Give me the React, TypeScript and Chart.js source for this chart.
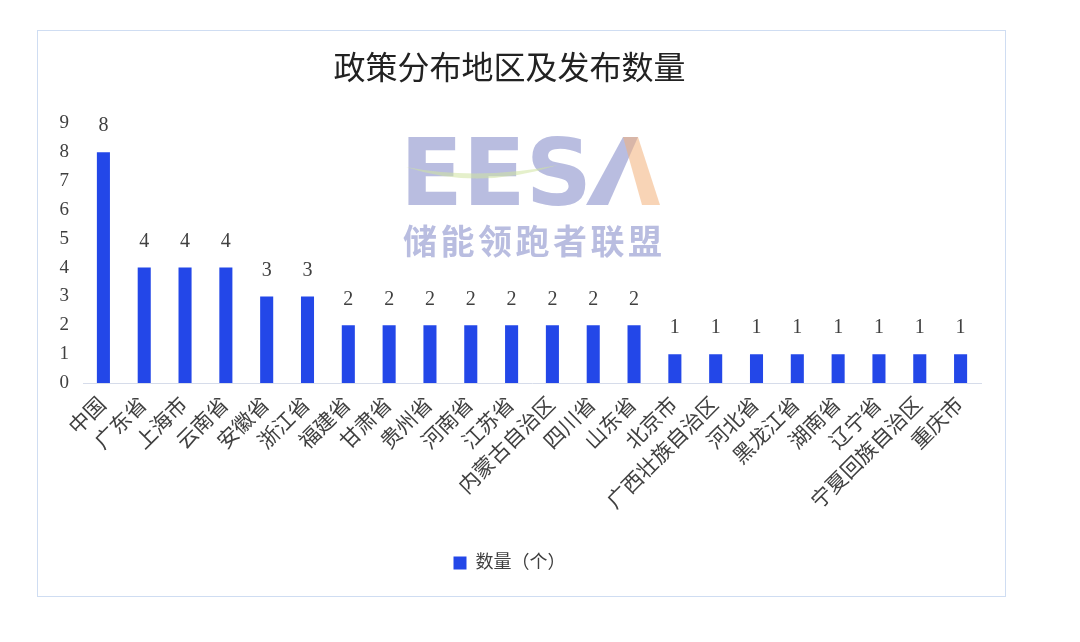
import React, { useEffect, useRef } from "react";
import { Chart, registerables } from "chart.js";

Chart.register(...registerables);

const categories = ["中国", "广东省", "上海市", "云南省", "安徽省", "浙江省", "福建省", "甘肃省", "贵州省", "河南省", "江苏省", "内蒙古自治区", "四川省", "山东省", "北京市", "广西壮族自治区", "河北省", "黑龙江省", "湖南省", "辽宁省", "宁夏回族自治区", "重庆市"];
const counts = [8, 4, 4, 4, 3, 3, 2, 2, 2, 2, 2, 2, 2, 2, 1, 1, 1, 1, 1, 1, 1, 1];
const yTicks = [0, 1, 2, 3, 4, 5, 6, 7, 8, 9];
const seriesName = "数量（个）";
const titleText = "政策分布地区及发布数量";

const FONT = "'Liberation Serif', 'Noto Sans CJK SC', serif";
const BAR = "#2347E8";

const valueLabels = {
  id: "valueLabels",
  afterDatasetsDraw(chart: any) {
    const ctx = chart.ctx;
    const meta = chart.getDatasetMeta(0);
    ctx.save();
    ctx.font = `20px ${FONT}`;
    ctx.fillStyle = "#404040";
    ctx.textAlign = "center";
    ctx.textBaseline = "middle";
    meta.data.forEach((el: any, i: number) => {
      ctx.fillText(String(counts[i]), el.x, el.y - 26);
    });
    ctx.restore();
  },
};

const watermark = {
  id: "watermark",
  beforeDatasetsDraw(chart: any) {
    const ctx = chart.ctx;
    ctx.save();
    ctx.globalAlpha = 0.55;
    ctx.fillStyle = "#7f86c6";
    ctx.font = "bold 92px 'DejaVu Sans', sans-serif";
    ctx.textBaseline = "alphabetic";
    ctx.textAlign = "left";
    ctx.fillText("EES", 362, 174);
    ctx.beginPath();
    ctx.moveTo(548, 174);
    ctx.lineTo(585, 106);
    ctx.lineTo(600, 106);
    ctx.lineTo(570, 174);
    ctx.closePath();
    ctx.fill();
    ctx.fillStyle = "#f2b07a";
    ctx.beginPath();
    ctx.moveTo(600, 106);
    ctx.lineTo(585, 106);
    ctx.lineTo(604, 174);
    ctx.lineTo(622, 174);
    ctx.closePath();
    ctx.fill();
    ctx.fillStyle = "#cfe3a0";
    ctx.beginPath();
    ctx.moveTo(368, 136);
    ctx.quadraticCurveTo(440, 160, 520, 134);
    ctx.quadraticCurveTo(440, 150, 368, 136);
    ctx.fill();
    ctx.fillStyle = "#7f86c6";
    ctx.font = "bold 34px 'Noto Sans CJK SC', sans-serif";
    ctx.textBaseline = "middle";
    const wm = "储能领跑者联盟";
    for (let i = 0; i < wm.length; i++) {
      ctx.fillText(wm[i], 365 + i * 37.5, 210);
    }
    ctx.restore();
  },
};

export default function App() {
  const ref = useRef<HTMLCanvasElement>(null);
  useEffect(() => {
    if (!ref.current) return;
    const chart = new Chart(ref.current, {
      type: "bar",
      data: {
        labels: categories,
        datasets: [
          {
            label: seriesName,
            data: counts,
            backgroundColor: BAR,
            barPercentage: 0.64,
            categoryPercentage: 0.5,
          },
        ],
      },
      options: {
        animation: false,
        responsive: false,
        layout: { padding: { left: 0, right: 24, top: 0, bottom: 14 } },
        plugins: {
          title: {
            display: true,
            text: titleText,
            font: { family: FONT, size: 32, weight: "normal" },
            color: "#222",
            padding: { top: 20, bottom: 34 },
          },
          legend: {
            position: "bottom",
            labels: {
              font: { family: FONT, size: 18 },
              color: "#404040",
              boxWidth: 13,
              boxHeight: 13,
              padding: 10,
            },
          },
          tooltip: { enabled: false },
        },
        scales: {
          x: {
            afterFit(scale: any) {
              scale.height = 161;
            },
            grid: { display: false, drawTicks: false },
            border: { display: true, color: "#D6DCEA", width: 1 },
            ticks: {
              font: { family: FONT, size: 21 },
              color: "#404040",
              maxRotation: 45,
              minRotation: 45,
              autoSkip: false,
              padding: 10,
            },
          },
          y: {
            min: 0,
            max: 9,
            afterFit(scale: any) {
              scale.width = 45;
            },
            afterBuildTicks(scale: any) {
              scale.ticks = yTicks.map((v) => ({ value: v }));
            },
            grid: { display: false, drawTicks: false },
            border: { display: false },
            ticks: {
              font: { family: FONT, size: 19 },
              color: "#404040",
              padding: 14,
            },
          },
        },
      },
      plugins: [watermark, valueLabels],
    });
    return () => chart.destroy();
  }, []);
  return (
    <div
      style={{
        position: "absolute",
        left: 37,
        top: 30,
        width: 967,
        height: 565,
        border: "1px solid #CFDDF2",
        background: "#fff",
      }}
    >
      <canvas ref={ref} width={967} height={565} style={{ display: "block" }} />
    </div>
  );
}
